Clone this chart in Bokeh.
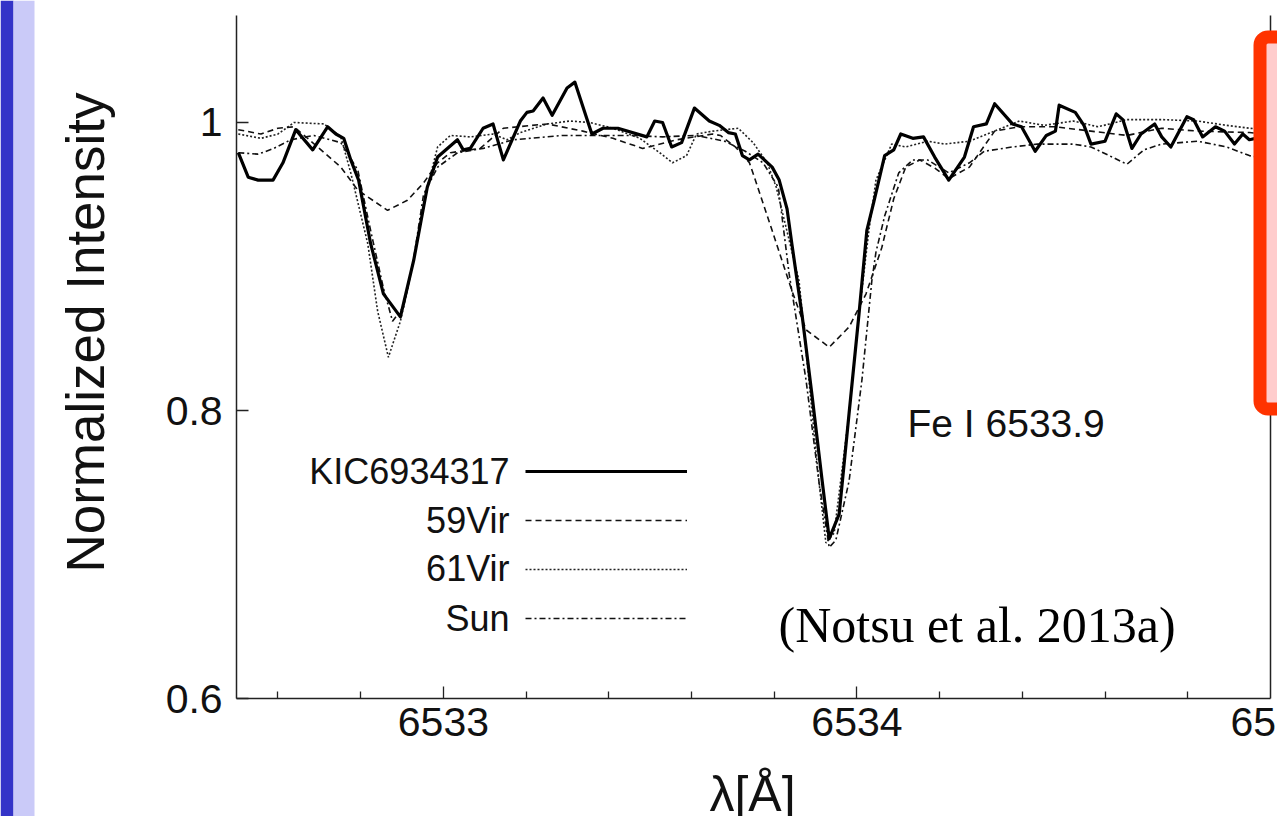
import math
from bokeh.plotting import figure
from bokeh.models import (Range1d, FixedTicker, NumeralTickFormatter, LinearAxis,
                          Label, BoxAnnotation, Legend, LegendItem)
from bokeh.embed import file_html
from bokeh.resources import INLINE

# ---------------- data ----------------
kic_wl = [6532.504, 6532.528, 6532.552, 6532.588, 6532.612, 6532.643, 6532.684, 6532.720, 6532.740, 6532.759,
          6532.776, 6532.795, 6532.824, 6532.855, 6532.896, 6532.928, 6532.961, 6532.986, 6533.034, 6533.048,
          6533.065, 6533.096, 6533.120, 6533.145, 6533.186, 6533.202, 6533.217, 6533.241, 6533.263, 6533.299,
          6533.318, 6533.359, 6533.386, 6533.422, 6533.492, 6533.511, 6533.530, 6533.552, 6533.576, 6533.607,
          6533.643, 6533.667, 6533.689, 6533.706, 6533.723, 6533.740, 6533.761, 6533.795, 6533.812, 6533.831,
          6533.843, 6533.867, 6533.892, 6533.916, 6533.933, 6533.957, 6533.981, 6534.005, 6534.024, 6534.041,
          6534.067, 6534.089, 6534.106, 6534.135, 6534.161, 6534.188, 6534.222, 6534.260, 6534.282, 6534.313,
          6534.333, 6534.376, 6534.398, 6534.431, 6534.458, 6534.480, 6534.489, 6534.528, 6534.549, 6534.566,
          6534.600, 6534.627, 6534.643, 6534.665, 6534.687, 6534.720, 6534.737, 6534.759, 6534.798, 6534.814,
          6534.836, 6534.867, 6534.889, 6534.913, 6534.933, 6534.949, 6534.980]
kic_int = [0.979, 0.962, 0.960, 0.960, 0.972, 0.995, 0.981, 0.997, 0.992, 0.989,
           0.974, 0.960, 0.916, 0.881, 0.865, 0.904, 0.955, 0.976, 0.988, 0.981,
           0.982, 0.996, 0.999, 0.974, 1.001, 1.007, 1.008, 1.017, 1.005, 1.024,
           1.028, 0.992, 0.996, 0.996, 0.990, 1.001, 1.000, 0.983, 0.986, 1.010,
           1.001, 0.998, 0.993, 0.992, 0.977, 0.974, 0.978, 0.969, 0.960, 0.940,
           0.915, 0.867, 0.809, 0.751, 0.711, 0.728, 0.798, 0.867, 0.925, 0.945,
           0.977, 0.981, 0.992, 0.989, 0.990, 0.976, 0.960, 0.976, 0.997, 0.999,
           1.013, 0.999, 0.997, 0.980, 0.991, 0.994, 1.012, 1.007, 0.998, 0.985,
           0.987, 1.006, 1.002, 0.982, 0.992, 0.999, 0.990, 0.983, 1.004, 1.002,
           0.990, 0.997, 0.994, 0.985, 0.992, 0.988, 0.990]

vir59_wl = [6532.504, 6532.559, 6532.600, 6532.639, 6532.704, 6532.752, 6532.793, 6532.865, 6532.913, 6532.952,
            6532.986, 6533.017, 6533.089, 6533.145, 6533.251, 6533.337, 6533.410, 6533.482, 6533.564, 6533.651,
            6533.670, 6533.706, 6533.740, 6533.752, 6533.795, 6533.843, 6533.877, 6533.933, 6533.981, 6534.022,
            6534.060, 6534.089, 6534.118, 6534.152, 6534.190, 6534.222, 6534.272, 6534.333, 6534.393, 6534.480,
            6534.566, 6534.653, 6534.737, 6534.824, 6534.949, 6534.988]
vir59_int = [0.995, 0.992, 0.996, 0.997, 0.981, 0.969, 0.953, 0.939, 0.946, 0.958,
             0.972, 0.979, 0.982, 0.996, 0.999, 0.994, 0.989, 0.982, 0.988, 0.992,
             0.991, 0.983, 0.972, 0.962, 0.925, 0.883, 0.856, 0.844, 0.858, 0.881,
             0.913, 0.947, 0.969, 0.974, 0.968, 0.961, 0.969, 0.994, 0.997, 0.997,
             0.994, 0.991, 0.996, 0.994, 0.993, 0.992]

vir61_wl = [6532.504, 6532.559, 6532.600, 6532.639, 6532.711, 6532.752, 6532.776, 6532.817, 6532.841, 6532.867,
            6532.896, 6532.928, 6532.961, 6532.986, 6533.017, 6533.065, 6533.120, 6533.154, 6533.186, 6533.251,
            6533.306, 6533.354, 6533.410, 6533.475, 6533.523, 6533.554, 6533.588, 6533.612, 6533.651, 6533.713,
            6533.749, 6533.783, 6533.805, 6533.822, 6533.860, 6533.884, 6533.908, 6533.925, 6533.945, 6533.981,
            6534.005, 6534.029, 6534.046, 6534.084, 6534.118, 6534.171, 6534.212, 6534.272, 6534.333, 6534.393,
            6534.453, 6534.523, 6534.583, 6534.653, 6534.737, 6534.824, 6534.894, 6534.949, 6534.988]
vir61_int = [0.992, 0.989, 0.992, 1.000, 0.999, 0.990, 0.965, 0.916, 0.869, 0.837,
             0.862, 0.904, 0.955, 0.983, 0.991, 0.990, 0.992, 0.988, 0.993, 0.999,
             1.001, 1.000, 0.996, 0.989, 0.979, 0.972, 0.977, 0.992, 0.994, 0.996,
             0.986, 0.972, 0.955, 0.935, 0.890, 0.821, 0.751, 0.708, 0.715, 0.798,
             0.867, 0.925, 0.960, 0.985, 0.983, 0.987, 0.985, 0.987, 0.994, 1.001,
             0.998, 1.001, 0.997, 1.002, 1.002, 1.001, 0.998, 0.996, 0.995]

sun_wl = [6532.504, 6532.552, 6532.590, 6532.631, 6532.687, 6532.752, 6532.793, 6532.824, 6532.855, 6532.877,
          6532.904, 6532.928, 6532.952, 6532.986, 6533.034, 6533.096, 6533.169, 6533.289, 6533.371, 6533.451,
          6533.530, 6533.612, 6533.680, 6533.730, 6533.773, 6533.810, 6533.836, 6533.877, 6533.908, 6533.933,
          6533.949, 6533.981, 6534.012, 6534.036, 6534.046, 6534.067, 6534.101, 6534.135, 6534.171, 6534.222,
          6534.272, 6534.308, 6534.376, 6534.436, 6534.523, 6534.566, 6534.610, 6534.653, 6534.694, 6534.737,
          6534.824, 6534.894, 6534.949, 6534.988]
sun_int = [0.979, 0.978, 0.982, 0.988, 0.991, 0.986, 0.967, 0.925, 0.885, 0.862,
           0.872, 0.905, 0.950, 0.969, 0.979, 0.982, 0.988, 0.991, 0.991, 0.991,
           0.990, 0.991, 0.987, 0.980, 0.972, 0.955, 0.895, 0.821, 0.751, 0.705,
           0.710, 0.751, 0.821, 0.890, 0.910, 0.935, 0.965, 0.974, 0.974, 0.965,
           0.972, 0.980, 0.983, 0.985, 0.985, 0.983, 0.977, 0.971, 0.981, 0.985,
           0.987, 0.983, 0.977, 0.975]

series_names = ["KIC6934317", "59Vir", "61Vir", "Sun"]
x_major_ticks = [6533, 6534]
x_edge_tick_label = "6535"          # last tick label, cut by the slide's right edge
x_minor_ticks = [6532.6, 6532.8, 6533.2, 6533.4, 6533.6, 6533.8, 6534.2, 6534.4, 6534.6, 6534.8]
y_major_ticks = [0.6, 0.8, 1.0]
x_bounds = (6532.5, 6535.0)
y_bounds = (0.6, 1.0743)
line_label = "Fe I 6533.9"
citation = "(Notsu et al. 2013a)"
x_title = "λ[Å]"
y_title = "Normalized Intensity"

SANS = "Liberation Sans"
SERIF = "Liberation Serif"
INK = "#111111"
AX = "#222222"

W, H = 1277, 816

# The plot frame fills the whole canvas; the axes sit at fixed data locations
# so that the slide decorations around the chart can be drawn too.
p = figure(width=W, height=H, output_backend="svg", toolbar_location=None,
           x_range=Range1d(6531.929, 6535.017), y_range=Range1d(0.5181, 1.0847),
           min_border_left=0, min_border_right=0, min_border_top=0, min_border_bottom=0,
           background_fill_color="white", border_fill_color="white")
p.grid.visible = False
p.outline_line_color = None

xa = p.xaxis[0]
xa.fixed_location = y_bounds[0]
xa.bounds = x_bounds
xa.ticker = FixedTicker(ticks=x_major_ticks, minor_ticks=x_minor_ticks)
xa.major_tick_in = 12
xa.major_tick_out = 0
xa.minor_tick_in = 7
xa.minor_tick_out = 0
xa.axis_line_width = 1.5
xa.axis_line_color = AX
xa.major_tick_line_color = AX
xa.minor_tick_line_color = AX
xa.major_tick_line_width = 1.3
xa.minor_tick_line_width = 1.3
xa.major_label_text_font = SANS
xa.major_label_text_font_size = "41px"
xa.major_label_text_color = INK
xa.major_label_standoff = 9

ya = p.yaxis[0]
ya.fixed_location = x_bounds[0]
ya.bounds = y_bounds
ya.ticker = FixedTicker(ticks=y_major_ticks)
ya.formatter = NumeralTickFormatter(format="0.[0]")
ya.major_tick_in = 12
ya.major_tick_out = 0
ya.minor_tick_line_color = None
ya.axis_line_width = 1.5
ya.axis_line_color = AX
ya.major_tick_line_color = AX
ya.major_tick_line_width = 1.3
ya.major_label_text_font = SANS
ya.major_label_text_font_size = "41px"
ya.major_label_text_color = INK
ya.major_label_standoff = 14

right_axis = LinearAxis(fixed_location=x_bounds[1], bounds=y_bounds,
                        ticker=FixedTicker(ticks=[]), major_label_text_font_size="0px",
                        major_tick_line_color=None, minor_tick_line_color=None,
                        axis_line_width=1.5, axis_line_color=AX, major_label_standoff=0)
p.add_layout(right_axis, "right")

# the last x tick label runs off the slide edge, as in the original
p.add_layout(Label(x=1230, y=109, x_units="screen", y_units="screen", text=x_edge_tick_label,
                   text_align="left", text_baseline="top", text_font=SANS,
                   text_font_size="41px", text_color=INK))

# ---------------- spectra ----------------
r_sun = p.line(sun_wl, sun_int, line_color="#111111", line_width=1.6, line_dash="6 3 2 3")
r_61 = p.line(vir61_wl, vir61_int, line_color="#222222", line_width=1.6, line_dash="2 2")
r_59 = p.line(vir59_wl, vir59_int, line_color="#111111", line_width=1.6, line_dash="6 4")
r_kic = p.line(kic_wl, kic_int, line_color="black", line_width=3.2, line_join="round")

renderers = [r_kic, r_59, r_61, r_sun]

# legend samples (the names are written to the left of the samples)
legend = Legend(items=[LegendItem(label=" ", renderers=[r]) for r in renderers],
                location=(525, 188), orientation="vertical",
                glyph_width=162, glyph_height=20, label_height=20, label_width=0,
                label_standoff=0, spacing=29, padding=0, margin=0,
                border_line_color=None, background_fill_alpha=0,
                label_text_font_size="1px")
p.add_layout(legend)

legend_rows_y = [345, 296, 248, 198]
for name, yy in zip(series_names, legend_rows_y):
    p.add_layout(Label(x=509, y=yy, x_units="screen", y_units="screen", text=name,
                       text_align="right", text_baseline="middle", text_font=SANS,
                       text_font_size="36px", text_color=INK))

p.add_layout(Label(x=907, y=393, x_units="screen", y_units="screen", text=line_label,
                   text_align="left", text_baseline="middle", text_font=SANS,
                   text_font_size="39px", text_color=INK))
p.add_layout(Label(x=778, y=192, x_units="screen", y_units="screen", text=citation,
                   text_align="left", text_baseline="middle", text_font=SERIF,
                   text_font_size="50px", text_color="black"))

# axis titles
p.add_layout(Label(x=85, y=484, x_units="screen", y_units="screen", text=y_title,
                   angle=math.pi / 2, text_align="center", text_baseline="alphabetic",
                   text_font=SANS, text_font_size="53px", text_color=INK))
p.add_layout(Label(x=752, y=51, x_units="screen", y_units="screen", text=x_title,
                   text_align="center", text_baseline="top",
                   text_font=SANS, text_font_size="50px", text_color=INK))

# slide decorations: left colour strips and red call-out box at right
def screen_box(left, right, bottom, top, **kw):
    return BoxAnnotation(left=left, right=right, bottom=bottom, top=top,
                         left_units="screen", right_units="screen",
                         bottom_units="screen", top_units="screen", **kw)

p.add_layout(screen_box(0, 13, 0, H, fill_color="#3434c8", fill_alpha=1, line_color=None))
p.add_layout(screen_box(13, 34, 0, H, fill_color="#cacaf8", fill_alpha=1, line_color=None))
p.add_layout(screen_box(1259.5, 1320, 407.5, 779.5, fill_color="#ffcccc", fill_alpha=1,
                        line_color="#ff3300", line_width=13, line_alpha=1, border_radius=8))

open("out.html", "w").write(file_html(p, INLINE))
